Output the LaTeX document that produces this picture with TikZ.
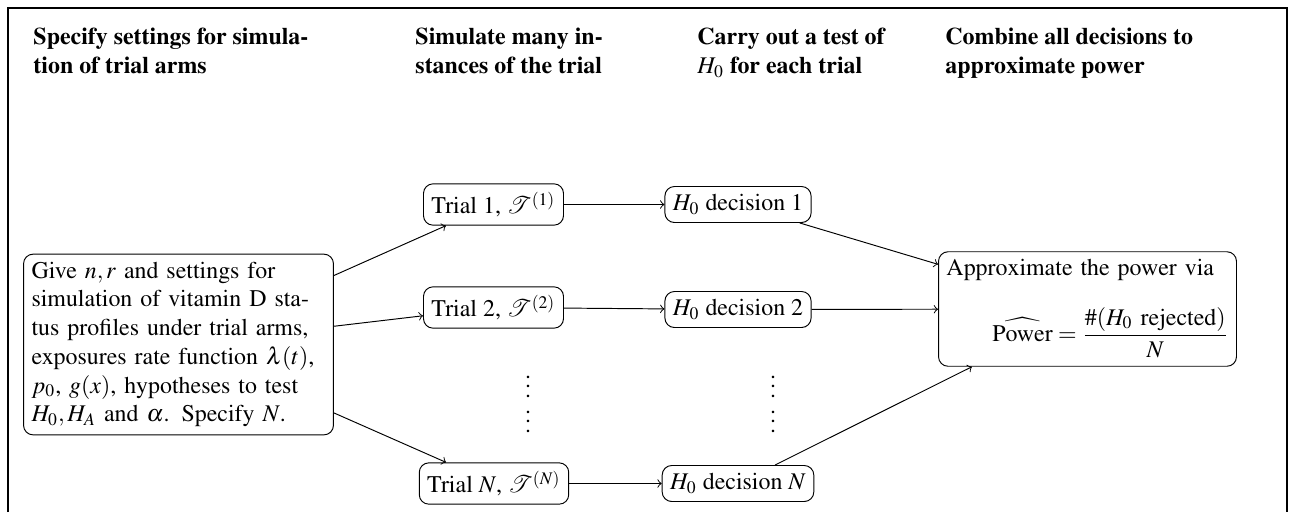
\documentclass[tikz,border=0pt]{standalone}
\usepackage[T1]{fontenc}
\usepackage{mathptmx}
\usepackage{mathrsfs}

\tikzset{
  stepbox/.style={draw, rounded corners, align=center},
  headtext/.style={anchor=north west, inner sep=0pt, align=left, font=\bfseries},
}

\begin{document}
\begin{tikzpicture}[x=0.4184pt,y=-0.4184pt]
\useasboundingbox (0,0) rectangle (1295,512);
% outer frame
\draw[line width=1pt] (8,512) -- (8,8) -- (1287,8) -- (1287,512);
% column headings
\node[headtext] (head1) at (33,28) {Specify settings for simula-\\tion of trial arms};
\node[headtext] (head2) at (415,28) {Simulate many in-\\stances of the trial};
\node[headtext] (head3) at (697,28) {Carry out a test of\\$H_0$ for each trial};
\node[headtext] (head4) at (945,28) {Combine all decisions to\\approximate power};

% settings
\node[stepbox, text width=123pt, align=left] (spec) at (178.5,344.5)
 {Give $n,r$ and settings for\\ simulation of vitamin D sta-\\
  tus profiles under trial arms,\\ exposures rate function $\lambda(t)$,\\
  $p_0$, $g(x)$, hypotheses to test\\ $H_0,H_A$ and $\alpha$. Specify $N$.};

% trials
\node[stepbox] (trial1) at (493.5,204.5) {Trial 1, $\mathscr{T}^{(1)}$};
\node[stepbox] (trial2) at (493.5,307.5) {Trial 2, $\mathscr{T}^{(2)}$};
\node[stepbox] (trialN) at (494,483.5) {Trial $N$, $\mathscr{T}^{(N)}$};
\node[align=center] (dotsT) at (528,397) {$\vdots$\\[-1.5pt]$\vdots$};

% decisions
\node[stepbox] (dec1) at (738,204.5) {$H_0$ decision 1};
\node[stepbox] (dec2) at (738,309.5) {$H_0$ decision 2};
\node[stepbox] (decN) at (738,483.5) {$H_0$ decision $N$};
\node[align=center] (dotsD) at (773,397) {$\vdots$\\[-1.5pt]$\vdots$};

% power
\node[stepbox, text width=118pt, align=left] (power) at (1087.5,309)
 {Approximate the power via\\[10pt]
  \mbox{}\hfill$\displaystyle\widehat{\mathrm{Power}}=\frac{\#(H_0\mbox{ rejected})}{N}$};

% connectors
\foreach \t in {trial1,trial2,trialN}
\draw[->] (spec) -- (\t);
\draw[->] (trial1) -- (dec1);
\draw[->] (trial2) -- (dec2);
\draw[->] (trialN) -- (decN);
\foreach \d in {dec1,dec2,decN}
\draw[->] (\d) -- (power);
\end{tikzpicture}
\end{document}
